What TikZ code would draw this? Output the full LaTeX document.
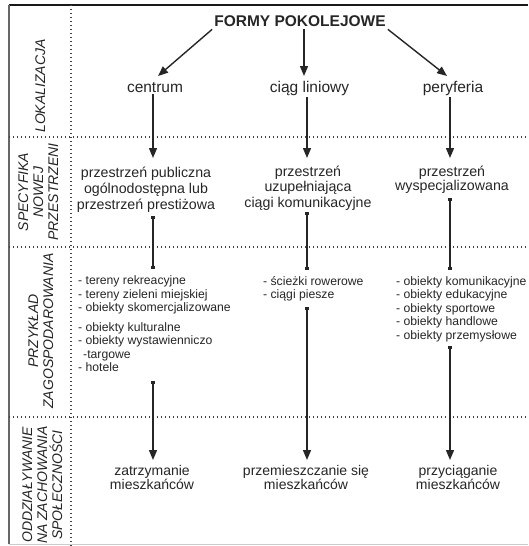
\documentclass[tikz,border=0pt]{standalone}
\usepackage{fontspec}
\setmainfont{Liberation Sans}
\usetikzlibrary{arrows.meta}
\newcommand\cent[1]{\vtop{\halign{\hfil##\hfil\cr#1\crcr}}}
\newcommand\lft[1]{\vtop{\halign{##\hfil\cr#1\crcr}}}
\begin{document}
\begin{tikzpicture}[x=1pt,y=-1pt,
  txt/.style={text=black!85, inner sep=0pt, anchor=base},
  big/.style={txt, font=\fontsize{15.5}{18}\selectfont},
  lst/.style={text=black!85, inner sep=0pt, anchor=base west, font=\fontsize{12.2}{13.5}\selectfont},
  side/.style={text=black!85, inner sep=0pt, anchor=base, rotate=90, font=\fontsize{14}{15}\selectfont\itshape},
  conn/.style={draw=black!85, line width=1.4pt},
  arr/.style={conn, -{Triangle[length=10pt,width=8pt]}},
  sq/.style={conn, {Square[length=3pt,width=3.5pt]}-{Square[length=3pt,width=3.5pt]}},
  sqarr/.style={conn, {Square[length=3pt,width=3.5pt]}-{Triangle[length=10pt,width=8pt]}},
  gridline/.style={draw=black!75, line width=1.2pt, dash pattern=on 1.2pt off 2.8pt},
]
\useasboundingbox[fill=white] (0,0) rectangle (528,546);

% frame and grid
\draw[black!90, line width=1.6pt] (9,5) -- (528,5);
\draw[black!60, line width=1.2pt] (9,5) -- (9,544);
\draw[black!20, line width=1pt] (9,544) -- (528,544);
\draw[gridline] (71,5) -- (71,546);
\draw[gridline] (9,137) -- (528,137);
\draw[gridline] (9,247) -- (528,247);
\draw[gridline] (9,417) -- (528,417);

% side labels (anchor = baseline of first line)
\node[side] (l1) at (45,86) {\cent{LOKALIZACJA}};
\node[side] (l2) at (28,192) {\cent{SPECYFIKA\cr NOWEJ\cr PRZESTRZENI}};
\node[side] (l3) at (38,331) {\cent{PRZYKŁAD\cr ZAGOSPODAROWANIA}};
\node[side] (l4) at (32,485) {\cent{ODDZIAŁYWANIE\cr NA ZACHOWANIA\cr SPOŁECZNOŚCI}};

% title and row 1
\node[txt, font=\fontsize{15.5}{18}\selectfont\bfseries, inner sep=2pt] (title) at (300,27) {FORMY POKOLEJOWE};
\node[big, inner sep=2pt] (centrum) at (155,92) {centrum};
\node[big, inner sep=2pt] (ciag) at (309.5,92) {ciąg liniowy};
\node[big, inner sep=2pt] (peryf) at (453,92) {peryferia};

% row 2
\node[txt, font=\fontsize{14.2}{16}\selectfont] (s1) at (146,177) {\cent{przestrzeń publiczna\cr ogólnodostępna lub\cr przestrzeń prestiżowa}};
\node[txt, font=\fontsize{14.2}{15.5}\selectfont] (s2) at (308,176) {\cent{przestrzeń\cr uzupełniająca\cr ciągi komunikacyjne}};
\node[txt, font=\fontsize{14.2}{14}\selectfont] (s3) at (452,176) {\cent{przestrzeń\cr wyspecjalizowana}};

% row 3
\node[lst] (e1) at (78,284.5) {\lft{- tereny rekreacyjne\cr - tereny zieleni miejskiej\cr - obiekty skomercjalizowane\cr\noalign{\vskip6pt}- obiekty kulturalne\cr - obiekty wystawienniczo\cr \hspace*{5pt}-targowe\cr - hotele}};
\node[lst] (e2) at (263,285) {\lft{- ścieżki rowerowe\cr - ciągi piesze}};
\node[lst] (e3) at (396,285) {\lft{- obiekty komunikacyjne\cr - obiekty edukacyjne\cr - obiekty sportowe\cr - obiekty handlowe\cr - obiekty przemysłowe}};

% row 4
\node[txt, font=\fontsize{14}{14}\selectfont] (o1) at (152,475) {\cent{zatrzymanie\cr mieszkańców}};
\node[txt, font=\fontsize{14}{14}\selectfont] (o2) at (306,475) {\cent{przemieszczanie się\cr mieszkańców}};
\node[txt, font=\fontsize{14}{14}\selectfont] (o3) at (458,475) {\cent{przyciąganie\cr mieszkańców}};

% connector points
\coordinate (t1) at (158,76);
\coordinate (t2) at (304,76);
\coordinate (t3) at (447,76);
\coordinate (a1) at (153,158);
\coordinate (a2) at (307,158);
\coordinate (a3) at (450,158);
\coordinate (p1a) at (153,216);
\coordinate (p1b) at (153,269);
\coordinate (p2a) at (307,212);
\coordinate (p2b) at (307,270);
\coordinate (p3a) at (450,198);
\coordinate (p3b) at (450,270);
\coordinate (q1a) at (153,381);
\coordinate (q2a) at (307,307);
\coordinate (q3a) at (450,346);
\coordinate (b1) at (153,460);
\coordinate (b2) at (307,460);
\coordinate (b3) at (450,460);

% connectors
\draw[arr] (title.south west) -- (t1);
\draw[arr] (title.south -| t2) -- (t2);
\draw[arr] (title.south east) -- (t3);
\draw[arr] (centrum.south -| a1) -- (a1);
\draw[arr] (ciag.south -| a2) -- (a2);
\draw[arr] (peryf.south -| a3) -- (a3);
\draw[sq] (p1a) -- (p1b);
\draw[sq] (p2a) -- (p2b);
\draw[sq] (p3a) -- (p3b);
\draw[sqarr] (q1a) -- (b1);
\draw[sqarr] (q2a) -- (b2);
\draw[sqarr] (q3a) -- (b3);
\end{tikzpicture}
\end{document}
